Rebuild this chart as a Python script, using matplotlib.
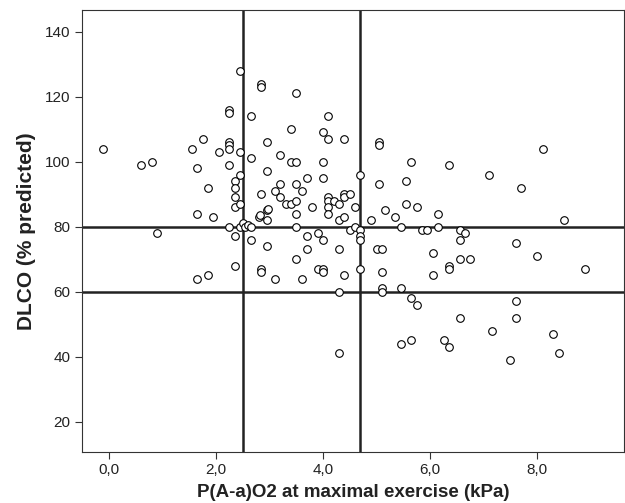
import matplotlib
matplotlib.use("Agg")
import matplotlib.pyplot as plt

plt.rcParams["font.family"] = ["Liberation Sans", "DejaVu Sans"]

# P(A-a)O2 at maximal exercise (kPa) and DLCO (% predicted)
# (one line per column of points, same layout in both lists)
paao2 = [
    -0.1, 0.6, 0.8, 0.9, 1.55,
    1.65, 1.65, 1.65,
    1.75, 1.85, 1.85, 1.95, 2.05,
    2.25, 2.25, 2.25, 2.25, 2.25, 2.25, 2.25,
    2.35, 2.35, 2.35, 2.35, 2.35, 2.35,
    2.45, 2.45, 2.45, 2.45, 2.45,
    2.5, 2.55, 2.6,
    2.65, 2.65, 2.65, 2.65,
    2.8, 2.82,
    2.85, 2.85, 2.85, 2.85, 2.85,
    2.95, 2.95, 2.95, 2.95, 2.95, 2.97,
    3.1, 3.1,
    3.2, 3.2, 3.2,
    3.3,
    3.4, 3.4, 3.4,
    3.5, 3.5, 3.5, 3.5, 3.5, 3.5, 3.5,
    3.6, 3.6,
    3.7, 3.7, 3.7,
    3.8,
    3.9, 3.9,
    4.0, 4.0, 4.0, 4.0, 4.0, 4.0,
    4.1, 4.1, 4.1, 4.1, 4.1, 4.1,
    4.2,
    4.3, 4.3, 4.3, 4.3, 4.3,
    4.4, 4.4, 4.4, 4.4, 4.4,
    4.5, 4.5,
    4.6, 4.6,
    4.7, 4.7, 4.7, 4.7, 4.7,
    4.9, 5.0,
    5.05, 5.05, 5.05,
    5.1, 5.1, 5.1, 5.1,
    5.15, 5.35,
    5.45, 5.45, 5.45,
    5.55, 5.55,
    5.65, 5.65, 5.65,
    5.75, 5.75,
    5.85, 5.95,
    6.05, 6.05,
    6.15, 6.15,
    6.25,
    6.35, 6.35, 6.35, 6.35,
    6.55, 6.55, 6.55, 6.55,
    6.65, 6.75, 7.1, 7.15, 7.5,
    7.6, 7.6, 7.6,
    7.7, 8.0, 8.1, 8.3, 8.4, 8.5, 8.9,
]
dlco = [
    104, 99, 100, 78, 104,
    98, 84, 64,
    107, 92, 65, 83, 103,
    116, 115, 106, 105, 104, 99, 80,
    94, 92, 89, 86, 77, 68,
    128, 103, 96, 87, 80,
    81, 80, 80.5,
    114, 101, 80, 76,
    83, 83.5,
    124, 123, 90, 67, 66,
    85, 82, 106, 97, 74, 85.5,
    91, 64,
    102, 93, 89,
    87,
    110, 100, 87,
    121, 100, 93, 88, 84, 80, 70,
    91, 64,
    95, 77, 73,
    86,
    78, 67,
    109, 100, 95, 76, 67, 66,
    114, 107, 89, 88, 86, 84,
    88,
    87, 82, 73, 60, 41,
    107, 90, 89, 83, 65,
    90, 79,
    86, 80,
    96, 79, 77, 76, 67,
    82, 73,
    106, 105, 93,
    73, 66, 61, 60,
    85, 83,
    80, 61, 44,
    94, 87,
    100, 58, 45,
    86, 56,
    79, 79,
    72, 65,
    84, 80,
    45,
    99, 68, 67, 43,
    79, 76, 70, 52,
    78, 70, 96, 48, 39,
    75, 57, 52,
    92, 71, 104, 47, 41, 82, 67,
]

x_cuts = [2.5, 4.7]
y_cuts = [80, 60]
x_ticks = [0, 2, 4, 6, 8]
y_ticks = [20, 40, 60, 80, 100, 120, 140]

fig = plt.figure(figsize=(6.25, 5.03), dpi=100)
ax = fig.add_axes([0.1312, 0.1014, 0.8672, 0.8786])

ax.scatter(paao2, dlco, s=30, facecolors="white", edgecolors="black",
           linewidths=0.8, zorder=3)

for xc in x_cuts:
    ax.axvline(xc, color="#222222", linewidth=1.8, zorder=2)
for yc in y_cuts:
    ax.axhline(yc, color="#222222", linewidth=1.8, zorder=2)

ax.set_xlim(-0.5, 9.62)
ax.set_ylim(10.7, 146.6)
ax.set_xticks(x_ticks)
ax.set_xticklabels([f"{t:.1f}".replace(".", ",") for t in x_ticks])
ax.set_yticks(y_ticks)
ax.tick_params(labelsize=11, length=5, width=0.8, color="#333333",
               labelcolor="#222222", top=False, right=False)
ax.tick_params(axis="x", pad=3)
for sp in ax.spines.values():
    sp.set_linewidth(0.8)
    sp.set_color("#333333")

ax.set_xlabel("P(A-a)O2 at maximal exercise (kPa)", fontsize=13.5,
              fontweight="bold", color="#222222", labelpad=5)
ax.set_ylabel("DLCO (% predicted)", fontsize=15, fontweight="bold",
              color="#222222", labelpad=6)

plt.savefig("out.png", dpi=100)
